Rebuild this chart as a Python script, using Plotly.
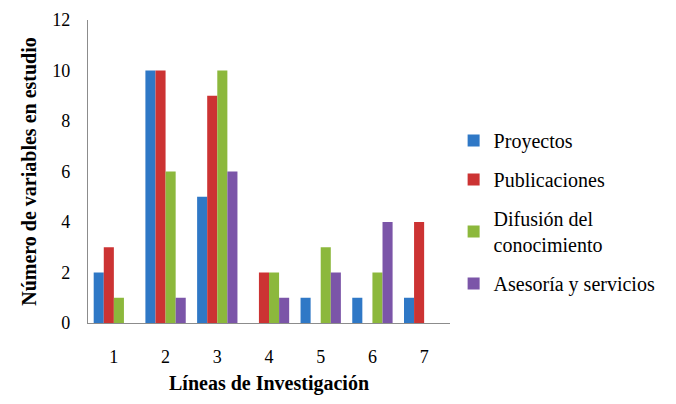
import plotly.graph_objects as go

categories = ["1", "2", "3", "4", "5", "6", "7"]
proyectos = [2, 10, 5, 0, 1, 1, 1]
publicaciones = [3, 10, 9, 2, 0, 0, 4]
difusion = [1, 6, 10, 2, 3, 2, 0]
asesoria = [0, 1, 6, 1, 2, 4, 0]
series_names = ["Proyectos", "Publicaciones", "Difusión del<br>conocimiento", "Asesoría y servicios"]
colors = ["#2F78C6", "#CC3333", "#8CB83C", "#7B55A8"]

SERIF = "Liberation Serif, Times New Roman, serif"

fig = go.Figure()
for name, vals, c in zip(series_names, [proyectos, publicaciones, difusion, asesoria], colors):
    fig.add_trace(go.Bar(x=categories, y=vals, name=name, legendgroup=name,
                         marker=dict(color=c, line=dict(width=0))))

fig.update_layout(
    width=676, height=404,
    margin=dict(l=80, r=234, t=12, b=89, autoexpand=False),
    paper_bgcolor="white", plot_bgcolor="white",
    font=dict(family=SERIF, size=18, color="black"),
    barmode="group", bargap=0.22, bargroupgap=0,
    showlegend=True,
    legend=dict(x=1.01, xref="paper", y=0.72, yref="container", yanchor="top",
                font=dict(size=20, family=SERIF),
                tracegroupgap=10, itemwidth=30, bgcolor="rgba(0,0,0,0)"),
    xaxis=dict(showline=True, linecolor="#8C8C8C", linewidth=1.3, ticks="", showgrid=False,
               ticklabelstandoff=17, tickfont=dict(family=SERIF, size=18),
               title=dict(text="<b>Líneas de Investigación</b>", font=dict(size=20, family=SERIF), standoff=10)),
    yaxis=dict(range=[0, 12], dtick=2, showline=True, linecolor="#8C8C8C", linewidth=1.3,
               ticks="", showgrid=False, zeroline=False, ticklabelstandoff=13,
               ticklabeloverflow="allow",
               tickfont=dict(family=SERIF, size=18),
               title=dict(text="<b>Número de variables en estudio</b>", font=dict(size=20, family=SERIF), standoff=10)),
)

fig.write_html("out.html")
